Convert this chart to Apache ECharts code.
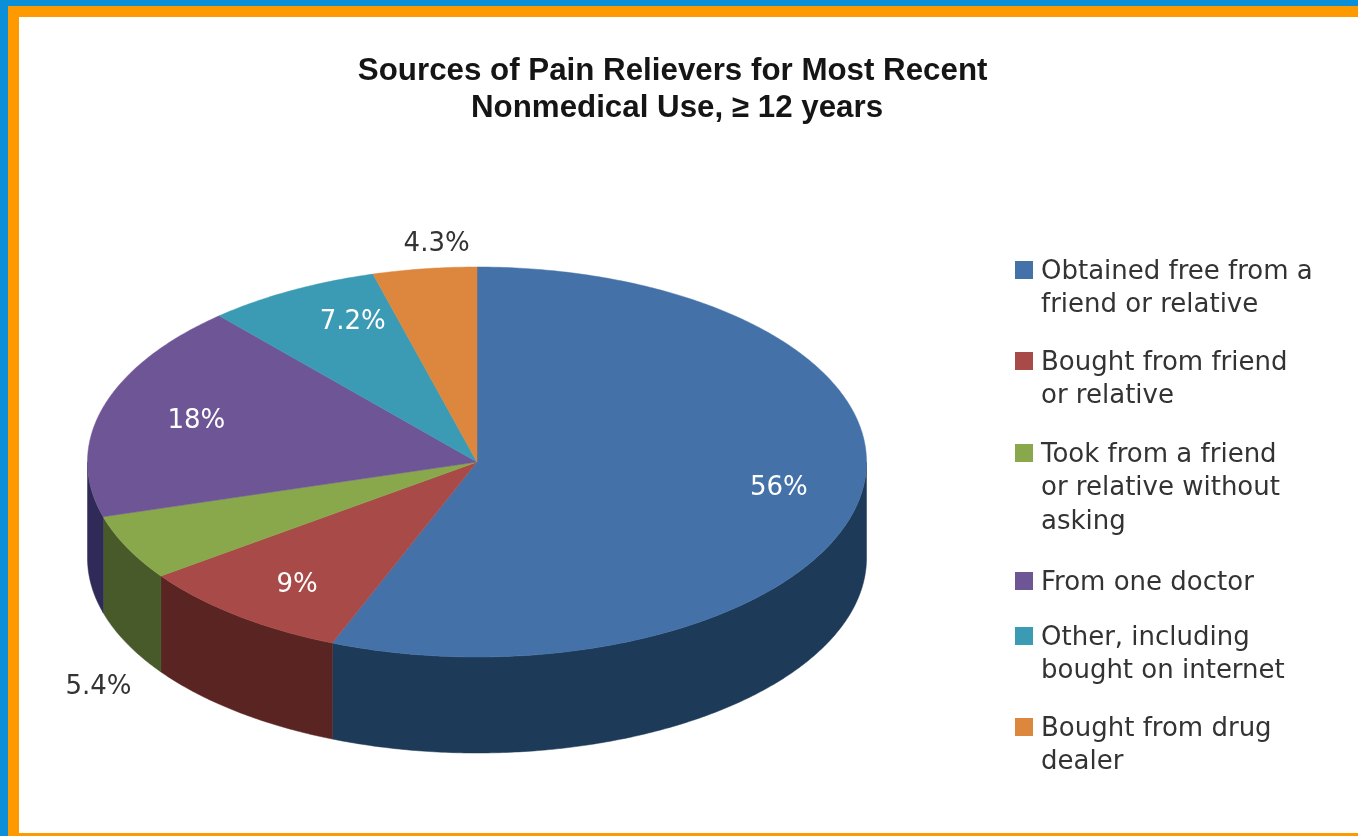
<!DOCTYPE html>
<html><head><meta charset="utf-8">
<style>html,body{margin:0;padding:0;background:#fff}#c{width:1358px;height:836px}</style>
<script src="https://cdn.jsdelivr.net/npm/echarts@6/dist/echarts.min.js"></script>
</head><body><div id="c"></div>
<script>
const categories = ["Obtained free from a\nfriend or relative","Bought from friend\nor relative","Took from a friend\nor relative without\nasking","From one doctor","Other, including\nbought on internet","Bought from drug\ndealer"];
const values = [56, 9, 5.4, 18, 7.2, 4.3];
const valueLabels = ["56%","9%","5.4%","18%","7.2%","4.3%"];
const topColors = ["#4472a8","#a84a47","#89a84b","#6e5596","#3b9ab4","#dd863d"];
const wallColors = ["#1d3a58","#5a2423","#495a2a","#2f2a57","#1e5263","#7a481f"];
const labelColors = ["#fff","#fff","#333","#fff","#fff","#333"];

const PIE = {cx:477, cy:462, rx:389.5, ry:195, depth:96};
const labelFactor = 0.75;
const labelNudge = [[15,-1],[0,8],[-116,161],[0,0],[15,-11],[-1,-73]];
const legendX = 1041, legendTops = [272,363,455,583,638,729], legendLine = 33.6, legendFont = 26;

const total = values.reduce((a,b)=>a+b,0);
const edges = [0]; values.forEach(v=>edges.push(edges[edges.length-1]+v/total*Math.PI*2));
const pt = (t,dy=0)=>[PIE.cx+PIE.rx*Math.sin(t), PIE.cy-PIE.ry*Math.cos(t)+dy];
function arc(a,b,dy){const n=Math.max(2,Math.ceil((b-a)/0.01));const r=[];for(let i=0;i<=n;i++)r.push(pt(a+(b-a)*i/n,dy));return r;}

function renderWall(params,api){
  const i=api.value(1);
  const a=Math.max(edges[i],Math.PI/2), b=Math.min(edges[i+1],Math.PI*1.5);
  if(b<=a) return {type:'group',children:[]};
  const pts=arc(a,b,0).concat(arc(a,b,PIE.depth).reverse());
  return {type:'polygon',shape:{points:pts},style:{fill:wallColors[i],stroke:wallColors[i],lineWidth:0.5}};
}
function renderTop(params,api){
  const i=api.value(1);
  const pts=[[PIE.cx,PIE.cy]].concat(arc(edges[i],edges[i+1],0));
  return {type:'polygon',shape:{points:pts},style:{fill:topColors[i],stroke:topColors[i],lineWidth:0.5}};
}
function renderLabel(params,api){
  const i=api.value(1), m=(edges[i]+edges[i+1])/2;
  const x=PIE.cx+labelFactor*PIE.rx*Math.sin(m)+labelNudge[i][0];
  const y=PIE.cy-labelFactor*PIE.ry*Math.cos(m)+labelNudge[i][1];
  return {type:'text',x:x,y:y,style:{text:valueLabels[i],fill:labelColors[i],align:'center',verticalAlign:'middle',font:'26px "DejaVu Sans"'}};
}
const seriesData = values.map((v,i)=>[v,i]);
const frame = [
 {type:'rect',shape:{x:0,y:0,width:1358,height:836},style:{fill:'#ff9900'},z:-3},
 {type:'rect',shape:{x:0,y:0,width:8,height:836},style:{fill:'#0b8fd9'},z:-2},
 {type:'rect',shape:{x:0,y:0,width:1358,height:6},style:{fill:'#0b8fd9'},z:-2},
 {type:'rect',shape:{x:19,y:17,width:1339,height:816},style:{fill:'#ffffff'},z:-1}
];
const legend = categories.flatMap((c,i)=>[
 {type:'rect',shape:{x:legendX-26,y:legendTops[i]-11,width:18,height:18},style:{fill:topColors[i]}},
 {type:'text',x:legendX,y:legendTops[i]-legendLine/2,style:{text:c,fill:'#333',font:legendFont+'px "DejaVu Sans"',lineHeight:legendLine,align:'left',verticalAlign:'top'}}
]);
const chart = echarts.init(document.getElementById('c'),null,{renderer:'canvas'});
chart.setOption({
 animation:false,
 backgroundColor:'#fff',
 title:{text:'Sources of Pain Relievers for Most Recent \nNonmedical Use, \u2265 12 years',left:672,top:48,textAlign:'center',
   textStyle:{fontFamily:'"Liberation Sans"',fontWeight:'bold',fontSize:31.3,lineHeight:37,color:'#151515'}},
 graphic:{elements:frame.concat(legend)},
 series:[
  {type:'custom',name:'Sides',coordinateSystem:'none',renderItem:renderWall,data:seriesData,silent:true,z:2},
  {type:'custom',name:'Sources',coordinateSystem:'none',renderItem:renderTop,data:seriesData,silent:true,z:3},
  {type:'custom',name:'Labels',coordinateSystem:'none',renderItem:renderLabel,data:seriesData,silent:true,z:4}
 ]
});
</script></body></html>
